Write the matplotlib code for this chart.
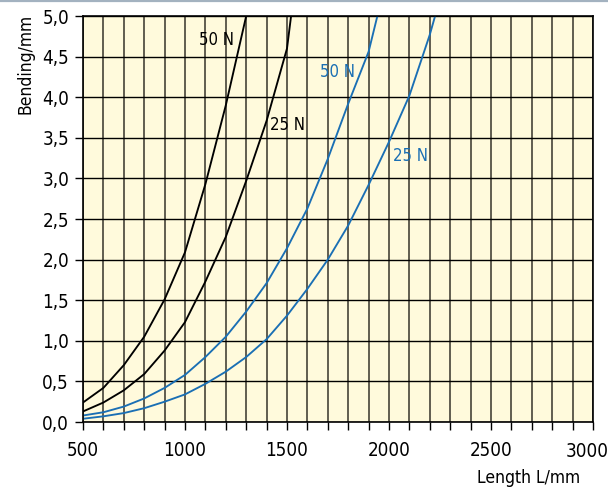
import matplotlib
matplotlib.use("Agg")
import matplotlib.pyplot as plt
from matplotlib import font_manager
from matplotlib.ticker import MultipleLocator, FuncFormatter

# lengths in mm, bending in mm
length = [500, 600, 700, 800, 900, 1000, 1100, 1200, 1300, 1400, 1500,
          1600, 1700, 1800, 1900, 2000, 2100, 2200]

black_50n = [0.24, 0.42, 0.70, 1.05, 1.51, 2.09, 2.93, 3.90, 5.00]
black_25n = [0.13, 0.24, 0.39, 0.59, 0.88, 1.23, 1.73, 2.28, 2.97, 3.71, 4.60]
black_25n_end = (1520, 5.0)
blue_50n = [0.08, 0.12, 0.19, 0.29, 0.42, 0.58, 0.80, 1.05, 1.36, 1.71, 2.14,
            2.63, 3.24, 3.92, 4.56]
blue_50n_end = (1943, 5.0)
blue_25n = [0.04, 0.07, 0.11, 0.17, 0.25, 0.34, 0.47, 0.62, 0.80, 1.02, 1.31,
            1.64, 2.00, 2.42, 2.92, 3.45, 4.02, 4.77]
blue_25n_end = (2226, 5.0)

labels = [("50 N", 1152, 4.70, "black"), ("25 N", 1500, 3.66, "black"),
          ("50 N", 1750, 4.31, "blue"), ("25 N", 2103, 3.28, "blue")]

BLUE = "#1a6fb4"
colors = {"black": "black", "blue": BLUE}


def narrow_font():
    # a real condensed face if there is one, else Roboto
    for f in font_manager.fontManager.ttflist:
        n = f.name.lower()
        narrow = "narrow" in n or "condensed" in n or (
            n == "dejavu sans" and f.stretch == "condensed")
        if narrow and f.style == "normal" and f.weight in (400, "normal", "regular"):
            return font_manager.FontProperties(fname=f.fname)
    return font_manager.FontProperties(family="Roboto")


fp = narrow_font()

fig = plt.figure(figsize=(6.08, 4.94), dpi=100)
ax = fig.add_axes([83 / 608, 1 - 422 / 494, 510 / 608, 406 / 494])
ax.set_facecolor("#fffadc")

ax.set_xlim(500, 3000)
ax.set_ylim(0, 5)
ax.xaxis.set_major_locator(MultipleLocator(500))
ax.xaxis.set_minor_locator(MultipleLocator(100))
ax.yaxis.set_major_locator(MultipleLocator(0.5))
ax.yaxis.set_major_formatter(FuncFormatter(lambda v, p: f"{v:.1f}".replace(".", ",")))
# 3000 is drawn separately, pulled in a little like in the original
ax.xaxis.set_major_formatter(FuncFormatter(lambda v, p: "" if v >= 3000 else f"{v:.0f}"))

ax.grid(which="both", axis="x", color="#35332a", lw=1.1)
ax.grid(which="major", axis="y", color="black", lw=1.0)
ax.tick_params(which="both", direction="out", length=6, width=1,
               color="black", pad=4)
ax.tick_params(axis="x", which="major", pad=8)
for lab in ax.get_xticklabels() + ax.get_yticklabels():
    lab.set_fontproperties(fp)
    lab.set_fontsize(13.5)
ax.annotate("3000", xy=(3000, 0), xytext=(-6, -20), textcoords="offset pixels",
            ha="center", va="top", fontproperties=fp, fontsize=13.5,
            annotation_clip=False)
for s in ax.spines.values():
    s.set_linewidth(1.2)


def draw(vals, end, color):
    xs = length[:len(vals)]
    ys = list(vals)
    if end is not None:
        xs = xs + [end[0]]
        ys = ys + [end[1]]
    ax.plot(xs, ys, color=color, lw=1.35)


draw(black_50n, None, "black")
draw(black_25n, black_25n_end, "black")
draw(blue_50n, blue_50n_end, BLUE)
draw(blue_25n, blue_25n_end, BLUE)

for txt, x, y, c in labels:
    ax.text(x, y, txt, color=colors[c], fontproperties=fp, fontsize=12,
            ha="center", va="center")

fig.text(580 / 608, 1 - 478 / 494, "Length L/mm", ha="right", va="center",
         fontproperties=fp, fontsize=12.5)
fig.text(25 / 608, 1 - 64 / 494, "Bending/mm", ha="center", va="center",
         rotation=90, fontproperties=fp, fontsize=12.5)

fig.add_artist(plt.Line2D([0, 1], [1 - 1 / 494, 1 - 1 / 494], color="#a3b2c0",
                          lw=1.6, transform=fig.transFigure))

fig.savefig("out.png", dpi=100)
